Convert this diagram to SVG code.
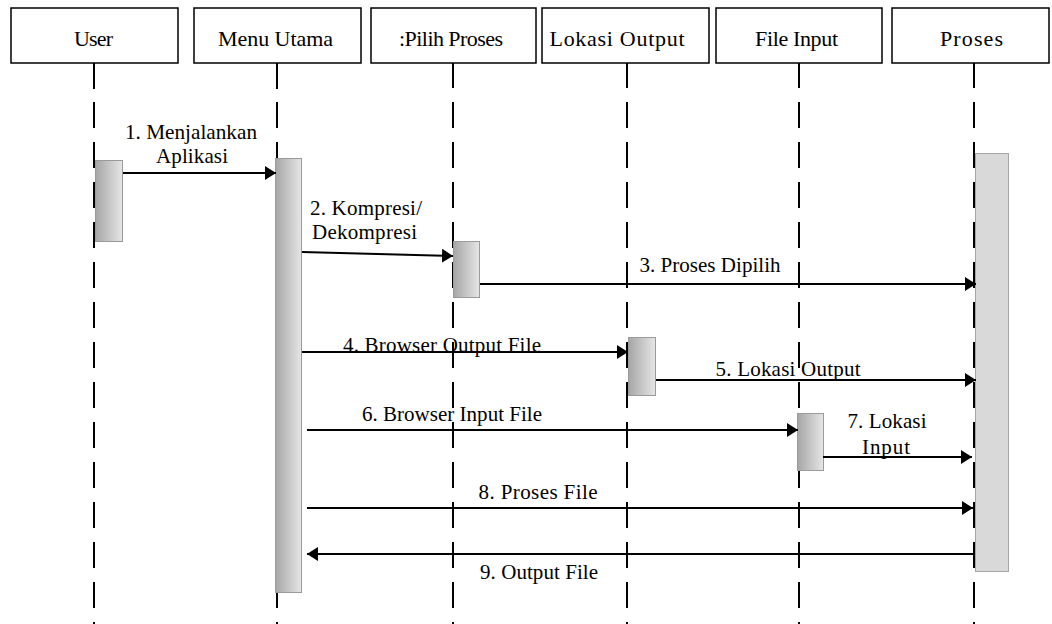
<svg xmlns="http://www.w3.org/2000/svg" width="1052" height="624" viewBox="0 0 1052 624">
  <style>
    .head { fill: #ffffff; stroke: #000000; stroke-width: 1.5; }
    .label { font-family: 'Liberation Serif', 'Times New Roman', serif; font-size: 21px; fill: #000000; }
    .title { font-size: 22px; }
    .mid { text-anchor: middle; }
    .life { stroke: #000000; stroke-width: 2; stroke-dasharray: 26 14; fill: none; }
    .life-top { stroke: #000000; stroke-width: 2; }
    .act { fill: url(#actGrad); stroke: #9a9a9a; stroke-width: 1; }
    .act-flat { fill: #d9d9d9; stroke: #a6a6a6; stroke-width: 1; }
    .msg { stroke: #000000; stroke-width: 2; fill: none; marker-end: url(#arrow); }
  </style>
  <defs>
    <linearGradient id="actGrad" x1="0" y1="0" x2="1" y2="0">
      <stop offset="0" stop-color="#a6a6a6"/>
      <stop offset="1" stop-color="#e6e6e6"/>
    </linearGradient>
    <marker id="arrow" markerUnits="userSpaceOnUse" markerWidth="12" markerHeight="16" refX="11" refY="8" orient="auto">
      <path d="M0,1 L11,8 L0,15 z" fill="#000000"/>
    </marker>
  </defs>

  <rect width="1052" height="624" fill="#ffffff"/>

  <!-- lifelines: a short solid stub under each head, then dashes to the bottom -->
  <g id="lifelines">
    <line class="life-top" x1="94" y1="62" x2="94" y2="89"/>
    <line class="life" x1="94" y1="102" x2="94" y2="624"/>
    <line class="life-top" x1="277" y1="62" x2="277" y2="89"/>
    <line class="life" x1="277" y1="102" x2="277" y2="624"/>
    <line class="life" x1="453" y1="62" x2="453" y2="624"/>
    <line class="life" x1="627" y1="62" x2="627" y2="624"/>
    <line class="life" x1="799" y1="62" x2="799" y2="624"/>
    <line class="life" x1="974" y1="62" x2="974" y2="624"/>
  </g>

  <g id="user">
    <rect class="head" x="11" y="8" width="167" height="55"/>
    <text class="label title mid" x="93.5" y="46" textLength="39" lengthAdjust="spacing">User</text>
    <rect class="act" x="95.5" y="160.5" width="27" height="81"/>
  </g>

  <g id="menu-utama">
    <rect class="head" x="194" y="8" width="167" height="55"/>
    <text class="label title mid" x="275.5" y="46" textLength="115" lengthAdjust="spacing">Menu Utama</text>
    <rect class="act" x="275.5" y="158.5" width="26" height="434"/>
  </g>

  <g id="pilih-proses">
    <rect class="head" x="371" y="8" width="165" height="55"/>
    <text class="label title mid" x="451" y="46" textLength="104" lengthAdjust="spacing">:Pilih Proses</text>
    <rect class="act" x="453.5" y="241.5" width="26" height="56"/>
  </g>

  <g id="lokasi-output">
    <rect class="head" x="542" y="8" width="167" height="55"/>
    <text class="label title mid" x="617" y="46" textLength="135" lengthAdjust="spacing">Lokasi Output</text>
    <rect class="act" x="628.5" y="337.5" width="27" height="58"/>
  </g>

  <g id="file-input">
    <rect class="head" x="716" y="8" width="166" height="55"/>
    <text class="label title mid" x="796.5" y="46" textLength="83" lengthAdjust="spacing">File Input</text>
    <rect class="act" x="797.5" y="413.5" width="26" height="57"/>
  </g>

  <g id="proses">
    <rect class="act-flat" x="975.5" y="153.5" width="33" height="418"/>
    <line class="life" x1="974" y1="142" x2="974" y2="572"/>
    <rect class="head" x="892" y="8" width="157" height="55"/>
    <text class="label title mid" x="971.5" y="46" textLength="63" lengthAdjust="spacing">Proses</text>
  </g>

  <g id="messages">
    <line class="msg" x1="123" y1="173" x2="276" y2="173"/>
    <text class="label mid" x="191" y="139" textLength="132" lengthAdjust="spacingAndGlyphs">1. Menjalankan</text>
    <text class="label mid" x="192" y="163" textLength="72" lengthAdjust="spacing">Aplikasi</text>

    <line class="msg" x1="302" y1="252" x2="453" y2="256"/>
    <text class="label" x="310" y="215" textLength="112" lengthAdjust="spacing">2. Kompresi/</text>
    <text class="label" x="312" y="239" textLength="105" lengthAdjust="spacing">Dekompresi</text>

    <line class="msg" x1="480" y1="284" x2="976" y2="284"/>
    <text class="label mid" x="710" y="272" textLength="141" lengthAdjust="spacing">3. Proses Dipilih</text>

    <line class="msg" x1="302" y1="352" x2="628" y2="352"/>
    <text class="label mid" x="442" y="352" textLength="198" lengthAdjust="spacing">4. Browser Output File</text>

    <line class="msg" x1="656" y1="380" x2="976" y2="380"/>
    <text class="label mid" x="788" y="376" textLength="145" lengthAdjust="spacing">5. Lokasi Output</text>

    <line class="msg" x1="307" y1="430" x2="798" y2="430"/>
    <text class="label mid" x="452" y="421" textLength="180" lengthAdjust="spacing">6. Browser Input File</text>

    <line class="msg" x1="823" y1="457" x2="972" y2="457"/>
    <text class="label mid" x="887" y="428" textLength="79" lengthAdjust="spacing">7. Lokasi</text>
    <text class="label mid" x="886" y="454" textLength="48" lengthAdjust="spacing">Input</text>

    <line class="msg" x1="307" y1="508" x2="973" y2="508"/>
    <text class="label mid" x="538" y="499" textLength="119" lengthAdjust="spacing">8. Proses File</text>

    <line class="msg" x1="975" y1="554" x2="307" y2="554"/>
    <text class="label mid" x="539" y="579" textLength="118" lengthAdjust="spacing">9. Output File</text>
  </g>
</svg>
